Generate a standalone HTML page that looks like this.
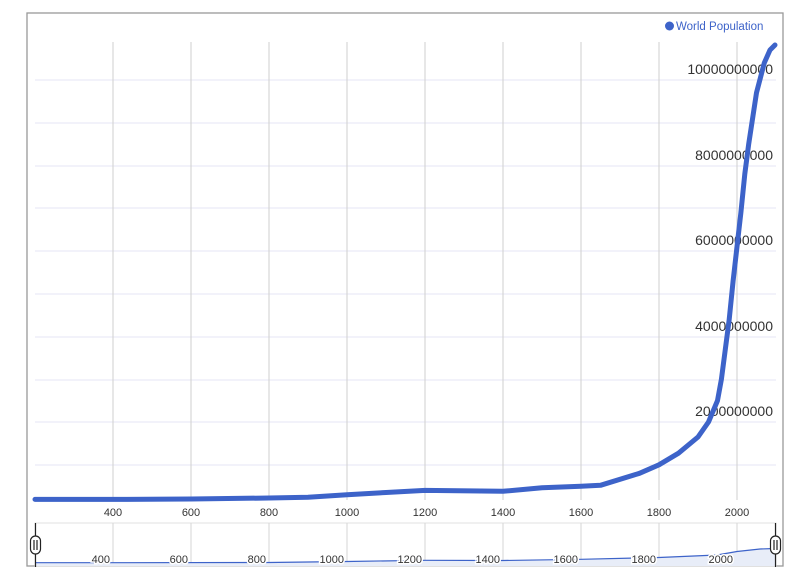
<!DOCTYPE html>
<html><head><meta charset="utf-8"><style>
html,body{margin:0;padding:0;background:#fff;}
svg{display:block;font-family:"Liberation Sans",Arial,sans-serif;}
</style></head><body>
<svg width="805" height="587" viewBox="0 0 805 587" xmlns="http://www.w3.org/2000/svg">
<rect x="27" y="13" width="756" height="553" fill="#fff" stroke="#999" stroke-width="1.3"/>
<g stroke="#e6e6f5" stroke-width="1">
<line x1="35" x2="776" y1="80" y2="80"/><line x1="35" x2="776" y1="123" y2="123"/>
<line x1="35" x2="776" y1="166" y2="166"/><line x1="35" x2="776" y1="208" y2="208"/>
<line x1="35" x2="776" y1="251" y2="251"/><line x1="35" x2="776" y1="294" y2="294"/>
<line x1="35" x2="776" y1="337" y2="337"/><line x1="35" x2="776" y1="380" y2="380"/>
<line x1="35" x2="776" y1="422" y2="422"/><line x1="35" x2="776" y1="465" y2="465"/>
</g>
<g stroke="#cfcfcf" stroke-width="1">
<line x1="113" x2="113" y1="42" y2="500"/><line x1="191" x2="191" y1="42" y2="500"/>
<line x1="269" x2="269" y1="42" y2="500"/><line x1="347" x2="347" y1="42" y2="500"/>
<line x1="425" x2="425" y1="42" y2="500"/><line x1="503" x2="503" y1="42" y2="500"/>
<line x1="581" x2="581" y1="42" y2="500"/><line x1="659" x2="659" y1="42" y2="500"/>
<line x1="737" x2="737" y1="42" y2="500"/>
</g>
<g font-size="14" fill="#333" text-anchor="end">
<text x="773" y="74">10000000000</text>
<text x="773" y="160">8000000000</text>
<text x="773" y="245">6000000000</text>
<text x="773" y="331">4000000000</text>
<text x="773" y="416">2000000000</text>
</g>
<polyline fill="none" stroke="#3d63c9" stroke-width="5" stroke-linejoin="round" stroke-linecap="round"
points="35,499.4 113,499.4 191,499 269,498 308,497.2 347,494.7 386,492.5 425,490.4 503,491.3 542,487.8 581,486.2 600.5,485.3 639.5,473.3 659,464.8 678.5,453.2 698,437 708.5,422 717.5,400.6 721.4,379.3 725.3,349.4 729.2,319.5 733.1,281 737,246.7 740.9,212.5 744.8,174 748.7,144 756.5,92.8 764.3,62.9 770,50 775,45"/>
<g font-size="11" fill="#333" text-anchor="middle">
<text x="113" y="516">400</text><text x="191" y="516">600</text><text x="269" y="516">800</text>
<text x="347" y="516">1000</text><text x="425" y="516">1200</text><text x="503" y="516">1400</text>
<text x="581" y="516">1600</text><text x="659" y="516">1800</text><text x="737" y="516">2000</text>
</g>
<rect x="35" y="523" width="741" height="43" fill="#fff" stroke="#e0e0e0"/>
<g stroke="#d6d6d6">
<line x1="113" x2="113" y1="523" y2="566"/><line x1="191" x2="191" y1="523" y2="566"/>
<line x1="269" x2="269" y1="523" y2="566"/><line x1="347" x2="347" y1="523" y2="566"/>
<line x1="425" x2="425" y1="523" y2="566"/><line x1="503" x2="503" y1="523" y2="566"/>
<line x1="581" x2="581" y1="523" y2="566"/><line x1="659" x2="659" y1="523" y2="566"/>
<line x1="737" x2="737" y1="523" y2="566"/>
</g>
<polygon fill="#e8edf8" points="35,562.7 113,562.7 269,562.5 347,561.5 425,560.3 503,560.5 581,559.3 659,557.5 717,555 737,551.5 760,549 775,548.5 775,566 35,566"/>
<polyline fill="none" stroke="#3d63c9" stroke-width="1.2" points="35,562.7 113,562.7 269,562.5 347,561.5 425,560.3 503,560.5 581,559.3 659,557.5 717,555 737,551.5 760,549 775,548.5"/>
<g font-size="11" fill="#333" text-anchor="end" stroke="#fff" stroke-width="3" paint-order="stroke">
<text x="110" y="563">400</text><text x="188" y="563">600</text><text x="266" y="563">800</text>
<text x="344" y="563">1000</text><text x="422" y="563">1200</text><text x="500" y="563">1400</text>
<text x="578" y="563">1600</text><text x="656" y="563">1800</text><text x="733" y="563">2000</text>
</g>
<g stroke="#222" stroke-width="1.2" fill="#fff">
<line x1="35.5" x2="35.5" y1="523" y2="567"/>
<rect x="30.5" y="536" width="10" height="18" rx="5"/>
<line x1="34" x2="34" y1="540" y2="550"/><line x1="37" x2="37" y1="540" y2="550"/>
<line x1="775.5" x2="775.5" y1="523" y2="567"/>
<rect x="770.5" y="536" width="10" height="18" rx="5"/>
<line x1="774" x2="774" y1="540" y2="550"/><line x1="777" x2="777" y1="540" y2="550"/>
</g>
<circle cx="669.5" cy="26" r="4.5" fill="#3d63c9"/>
<text x="676" y="30" font-size="11.5" fill="#3d63c9">World Population</text>
</svg>
</body></html>
